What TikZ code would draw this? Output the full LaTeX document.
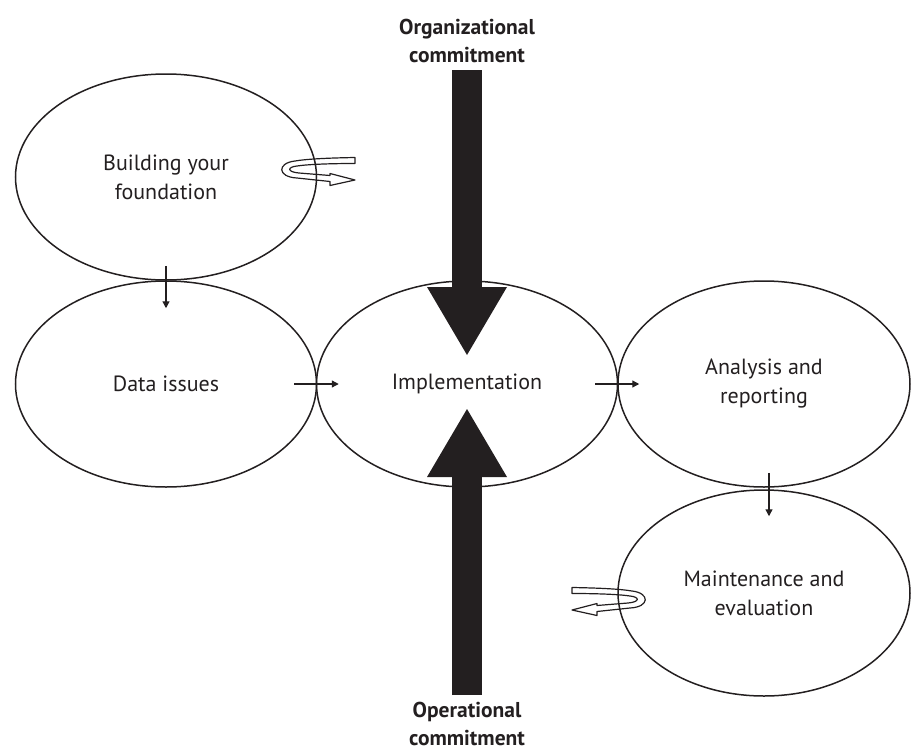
\documentclass[tikz,border=0pt]{standalone}
\usepackage{fontspec}
\setmainfont{PT Sans}
\usetikzlibrary{arrows.meta,shapes.geometric}
\definecolor{ink}{HTML}{231F20}
\begin{document}
\begin{tikzpicture}[x=1pt,y=-1pt, color=ink,
  stage/.style={draw, ellipse, line width=1.5pt, inner sep=0pt, align=center,
    minimum height=206pt, font=\fontsize{22}{29}\selectfont},
  lbl/.style={align=center, font=\fontsize{21.5}{27.5}\selectfont\bfseries},
  small/.style={line width=1.3pt, -{Triangle[length=7pt,width=7pt]}},
  big/.style={line width=30pt, -{Triangle[length=68pt,width=80pt,line width=0pt]}},
  curl/.style={line width=1.2pt, line join=round}
]
\useasboundingbox (0,0) rectangle (911,750);

% stages
\node[stage, minimum width=301pt] (build) at (166,177) {Building your\\foundation};
\node[stage, minimum width=301pt] (data) at (166,384) {Data issues};
\node[stage, minimum width=301pt] (impl) at (467,384) {Implementation};
\node[stage, minimum width=292pt] (anal) at (764,384) {Analysis and\\reporting};
\node[stage, minimum width=292pt] (maint) at (764,593) {Maintenance and\\evaluation};

% commitment labels
\node[lbl] (org) at (467,41) {Organizational\\commitment};
\node[lbl] (oper) at (467,724) {Operational\\commitment};

% big arrows
\coordinate (dstart) at (467,70);
\coordinate (dtip) at (467,355);
\coordinate (ustart) at (467,695);
\coordinate (utip) at (467,409);
\draw[big] (dstart) -- (dtip);
\draw[big] (ustart) -- (utip);

% small arrows
\draw[small] ([yshift=15pt]build.south) -- ([yshift=-28pt]data.north);
\draw[small] ([xshift=-23pt]data.east) -- ([xshift=23pt]impl.west);
\draw[small] ([xshift=-23pt]impl.east) -- ([xshift=22pt]anal.west);
\draw[small] ([xshift=5pt,yshift=15pt]anal.south) -- ([xshift=5pt,yshift=-27pt]maint.north);

% curly arrows
\begin{scope}[shift={(572,610)}]
\draw[curl] (0,-22.5) .. controls (28,-22) and (48,-21) .. (60,-19)
  .. controls (78,-17) and (78,-3) .. (58,-2) -- (25,1.5) -- (25,5.5) -- (0,0)
  -- (25,-6.5) -- (25,-4.5) -- (56,-7)
  .. controls (68,-8) and (68,-13) .. (58,-14)
  .. controls (48,-15.5) and (28,-16.5) .. (0,-16.5) -- cycle;
\end{scope}
\begin{scope}[shift={(355,180)}, xscale=-1]
\draw[curl] (0,-22.5) .. controls (28,-22) and (48,-21) .. (60,-19)
  .. controls (78,-17) and (78,-3) .. (58,-2) -- (25,1.5) -- (25,5.5) -- (0,0)
  -- (25,-6.5) -- (25,-4.5) -- (56,-7)
  .. controls (68,-8) and (68,-13) .. (58,-14)
  .. controls (48,-15.5) and (28,-16.5) .. (0,-16.5) -- cycle;
\end{scope}
\end{tikzpicture}
\end{document}
